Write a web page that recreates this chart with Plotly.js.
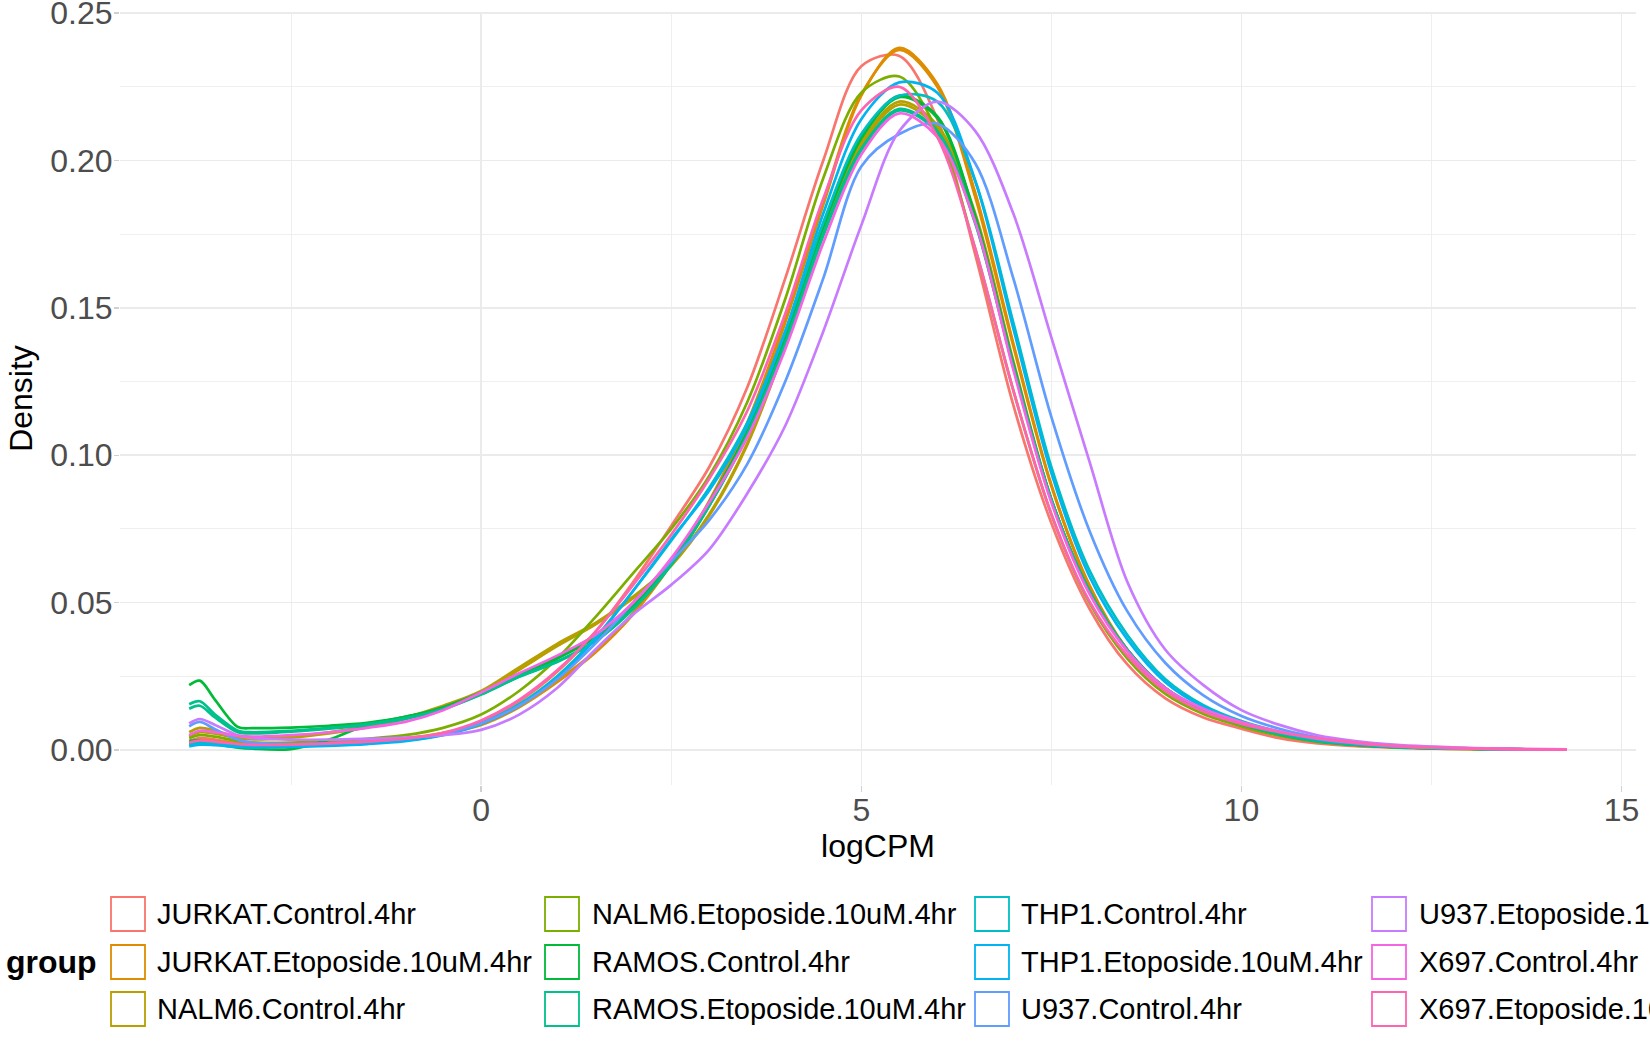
<!DOCTYPE html>
<html>
<head>
<meta charset="utf-8">
<script src="https://cdn.plot.ly/plotly-3.0.1.min.js"></script>
<style>
  html, body { margin: 0; padding: 0; background: #fff; }
  #plot { width: 1650px; height: 1050px; }
</style>
</head>
<body>
<div id="plot"></div>
<script>
// logCPM grid the curves were read at
const logCPM = [-3.84, -3.7, -3.5, -3.2, -3.0, -2.5, -2.0, -1.5, -1.0, -0.5, 0.0, 0.5, 1.0, 1.5, 2.0, 2.5, 3.0, 3.5, 4.0, 4.5,
  5.0, 5.5, 6.0, 6.5, 7.0, 7.5, 8.0, 8.5, 9.0, 9.5, 10.0, 10.5, 11.0, 11.5, 12.0, 13.0, 14.28];

const groups = [
  "JURKAT.Control.4hr", "JURKAT.Etoposide.10uM.4hr", "NALM6.Control.4hr",
  "NALM6.Etoposide.10uM.4hr", "RAMOS.Control.4hr", "RAMOS.Etoposide.10uM.4hr",
  "THP1.Control.4hr", "THP1.Etoposide.10uM.4hr", "U937.Control.4hr",
  "U937.Etoposide.10uM.4hr", "X697.Control.4hr", "X697.Etoposide.10uM.4hr"
];
const groupColors = ["#F8766D", "#DE8C00", "#B79F00", "#7CAE00", "#00BA38", "#00C08B",
  "#00BFC4", "#00B4F0", "#619CFF", "#C77CFF", "#F564E3", "#FF64B0"];

// density per sample
const jurkatControl = [0.0030, 0.0040, 0.0035, 0.0022, 0.0018, 0.0017, 0.0020, 0.0026, 0.0035, 0.0055, 0.0095, 0.0165, 0.0265, 0.0400, 0.0570, 0.0760, 0.0960, 0.1230, 0.1600, 0.2000,
  0.2320, 0.2355, 0.2140, 0.1680, 0.1170, 0.0770, 0.0480, 0.0290, 0.0175, 0.0110, 0.0072, 0.0040, 0.0022, 0.0013, 0.0008, 0.0003, 0.0001];
const jurkatEto1 = [0.0020, 0.0030, 0.0028, 0.0020, 0.0017, 0.0018, 0.0022, 0.0028, 0.0037, 0.0055, 0.0085, 0.0145, 0.0230, 0.0330, 0.0460, 0.0630, 0.0840, 0.1100, 0.1450, 0.1850,
  0.2220, 0.2382, 0.2260, 0.1890, 0.1380, 0.0900, 0.0560, 0.0340, 0.0205, 0.0130, 0.0085, 0.0052, 0.0030, 0.0018, 0.0010, 0.0004, 0.0001];
const jurkatEto2 = [0.0024, 0.0034, 0.0030, 0.0021, 0.0018, 0.0019, 0.0023, 0.0029, 0.0039, 0.0058, 0.0090, 0.0150, 0.0235, 0.0335, 0.0465, 0.0635, 0.0845, 0.1110, 0.1460, 0.1860,
  0.2225, 0.2375, 0.2250, 0.1875, 0.1370, 0.0895, 0.0555, 0.0335, 0.0200, 0.0128, 0.0083, 0.0050, 0.0029, 0.0017, 0.0010, 0.0004, 0.0001];
const nalm6Control1 = [0.0060, 0.0075, 0.0065, 0.0045, 0.0040, 0.0045, 0.0060, 0.0080, 0.0110, 0.0150, 0.0200, 0.0280, 0.0360, 0.0430, 0.0520, 0.0630, 0.0800, 0.1040, 0.1380, 0.1760,
  0.2060, 0.2200, 0.2120, 0.1820, 0.1320, 0.0850, 0.0540, 0.0340, 0.0210, 0.0135, 0.0088, 0.0055, 0.0032, 0.0019, 0.0011, 0.0004, 0.0001];
const nalm6Control2 = [0.0045, 0.0060, 0.0055, 0.0040, 0.0036, 0.0042, 0.0056, 0.0076, 0.0105, 0.0145, 0.0195, 0.0272, 0.0352, 0.0425, 0.0515, 0.0625, 0.0795, 0.1035, 0.1370, 0.1750,
  0.2050, 0.2190, 0.2110, 0.1810, 0.1310, 0.0845, 0.0536, 0.0338, 0.0208, 0.0134, 0.0087, 0.0054, 0.0031, 0.0018, 0.0010, 0.0004, 0.0001];
const nalm6Eto = [0.0040, 0.0050, 0.0045, 0.0030, 0.0025, 0.0025, 0.0030, 0.0038, 0.0050, 0.0075, 0.0120, 0.0200, 0.0310, 0.0450, 0.0600, 0.0750, 0.0930, 0.1180, 0.1530, 0.1940,
  0.2230, 0.2285, 0.2100, 0.1700, 0.1220, 0.0800, 0.0500, 0.0310, 0.0190, 0.0122, 0.0080, 0.0048, 0.0027, 0.0016, 0.0009, 0.0003, 0.0001];
const ramosControl1 = [0.0220, 0.0235, 0.0170, 0.0078, 0.0074, 0.0076, 0.0082, 0.0092, 0.0112, 0.0145, 0.0195, 0.0255, 0.0315, 0.0390, 0.0490, 0.0640, 0.0840, 0.1080, 0.1400, 0.1780,
  0.2080, 0.2220, 0.2150, 0.1810, 0.1310, 0.0850, 0.0540, 0.0340, 0.0210, 0.0135, 0.0088, 0.0054, 0.0031, 0.0018, 0.0010, 0.0004, 0.0001];
const ramosControl2 = [0.0030, 0.0032, 0.0020, 0.0008, 0.0004, 0.0003, 0.0035, 0.0085, 0.0112, 0.0140, 0.0190, 0.0250, 0.0310, 0.0380, 0.0480, 0.0630, 0.0830, 0.1075, 0.1395, 0.1775,
  0.2075, 0.2215, 0.2145, 0.1805, 0.1305, 0.0848, 0.0538, 0.0338, 0.0209, 0.0134, 0.0087, 0.0053, 0.0030, 0.0018, 0.0010, 0.0004, 0.0001];
const ramosEto1 = [0.0155, 0.0165, 0.0120, 0.0065, 0.0060, 0.0065, 0.0075, 0.0088, 0.0108, 0.0140, 0.0190, 0.0250, 0.0300, 0.0370, 0.0480, 0.0630, 0.0830, 0.1070, 0.1380, 0.1750,
  0.2040, 0.2175, 0.2100, 0.1790, 0.1300, 0.0850, 0.0540, 0.0340, 0.0210, 0.0135, 0.0088, 0.0054, 0.0031, 0.0018, 0.0010, 0.0004, 0.0001];
const ramosEto2 = [0.0140, 0.0150, 0.0110, 0.0060, 0.0056, 0.0062, 0.0072, 0.0085, 0.0105, 0.0138, 0.0188, 0.0248, 0.0298, 0.0368, 0.0478, 0.0628, 0.0828, 0.1068, 0.1378, 0.1745,
  0.2035, 0.2170, 0.2095, 0.1785, 0.1298, 0.0849, 0.0539, 0.0339, 0.0209, 0.0134, 0.0087, 0.0053, 0.0030, 0.0018, 0.0010, 0.0004, 0.0001];
const thp1Control = [0.0020, 0.0025, 0.0022, 0.0015, 0.0012, 0.0012, 0.0016, 0.0022, 0.0032, 0.0052, 0.0090, 0.0155, 0.0250, 0.0380, 0.0540, 0.0710, 0.0890, 0.1110, 0.1420, 0.1790,
  0.2090, 0.2220, 0.2200, 0.1930, 0.1450, 0.0960, 0.0610, 0.0390, 0.0240, 0.0152, 0.0098, 0.0062, 0.0037, 0.0022, 0.0013, 0.0005, 0.0001];
const thp1Eto = [0.0012, 0.0018, 0.0016, 0.0010, 0.0008, 0.0010, 0.0014, 0.0020, 0.0030, 0.0050, 0.0088, 0.0150, 0.0245, 0.0375, 0.0540, 0.0715, 0.0880, 0.1100, 0.1420, 0.1820,
  0.2140, 0.2265, 0.2230, 0.1930, 0.1430, 0.0940, 0.0590, 0.0375, 0.0230, 0.0146, 0.0095, 0.0060, 0.0036, 0.0021, 0.0012, 0.0004, 0.0001];
const u937Control = [0.0080, 0.0095, 0.0070, 0.0035, 0.0025, 0.0020, 0.0022, 0.0028, 0.0038, 0.0055, 0.0090, 0.0150, 0.0240, 0.0360, 0.0500, 0.0640, 0.0780, 0.0970, 0.1250, 0.1600,
  0.1980, 0.2090, 0.2125, 0.1990, 0.1600, 0.1130, 0.0745, 0.0470, 0.0295, 0.0185, 0.0115, 0.0072, 0.0043, 0.0025, 0.0014, 0.0005, 0.0001];
const u937Eto = [0.0090, 0.0105, 0.0085, 0.0050, 0.0040, 0.0035, 0.0035, 0.0038, 0.0042, 0.0050, 0.0068, 0.0120, 0.0210, 0.0340, 0.0460, 0.0560, 0.0680, 0.0870, 0.1100, 0.1420,
  0.1780, 0.2100, 0.2200, 0.2100, 0.1820, 0.1400, 0.0980, 0.0570, 0.0340, 0.0220, 0.0135, 0.0085, 0.0050, 0.0030, 0.0018, 0.0007, 0.0002];
const x697Control = [0.0050, 0.0065, 0.0060, 0.0048, 0.0045, 0.0050, 0.0060, 0.0075, 0.0095, 0.0135, 0.0195, 0.0260, 0.0320, 0.0390, 0.0500, 0.0650, 0.0840, 0.1060, 0.1360, 0.1720,
  0.2020, 0.2160, 0.2080, 0.1790, 0.1290, 0.0840, 0.0530, 0.0335, 0.0210, 0.0140, 0.0095, 0.0062, 0.0038, 0.0023, 0.0013, 0.0005, 0.0001];
const x697Eto = [0.0025, 0.0032, 0.0028, 0.0020, 0.0017, 0.0018, 0.0022, 0.0028, 0.0038, 0.0058, 0.0100, 0.0170, 0.0270, 0.0400, 0.0560, 0.0730, 0.0920, 0.1150, 0.1480, 0.1870,
  0.2170, 0.2250, 0.2080, 0.1700, 0.1220, 0.0800, 0.0505, 0.0320, 0.0200, 0.0130, 0.0088, 0.0060, 0.0040, 0.0025, 0.0014, 0.0005, 0.0001];

const yTicks = [0, 0.05, 0.10, 0.15, 0.20, 0.25];
const xTicks = [0, 5, 10, 15];

// sample -> group index
const samples = [
  [0, jurkatControl], [1, jurkatEto1], [1, jurkatEto2], [2, nalm6Control1], [2, nalm6Control2],
  [3, nalm6Eto], [4, ramosControl1], [4, ramosControl2], [5, ramosEto1], [5, ramosEto2],
  [6, thp1Control], [7, thp1Eto], [8, u937Control], [9, u937Eto], [10, x697Control], [11, x697Eto]
];

const W = 1650, H = 1050;
const MARGIN = { l: 120, r: 14, t: 12, b: 265 };
const plotW = W - MARGIN.l - MARGIN.r, plotH = H - MARGIN.t - MARGIN.b;
const px2x = px => (px - MARGIN.l) / plotW;
const py2y = py => (H - MARGIN.b - py) / plotH;
const FONT = "Liberation Sans, Arial, Helvetica, sans-serif";

function buildDensityTrace(groupIdx, dens) {
  return {
    type: "scatter",
    mode: "lines",
    x: logCPM,
    y: dens,
    line: { color: groupColors[groupIdx], width: 2.7, shape: "spline", smoothing: 0.9 },
    name: groups[groupIdx],
    showlegend: false,
    hoverinfo: "skip"
  };
}

// ggplot style legend: outlined key boxes in 4 columns x 3 rows
function buildLegend() {
  const boxLeft = [111, 545, 975, 1372];
  const textLeft = [155, 590, 1019, 1417];
  const rowY = [914, 962, 1009];
  const box = 34;
  const shapes = [], annotations = [];
  groups.forEach((g, i) => {
    const col = Math.floor(i / 3), row = i % 3;
    const cy = rowY[row];
    shapes.push({
      type: "rect", xref: "paper", yref: "paper",
      x0: px2x(boxLeft[col]), x1: px2x(boxLeft[col] + box),
      y0: py2y(cy + box / 2), y1: py2y(cy - box / 2),
      line: { color: groupColors[i], width: 1.8 },
      fillcolor: "rgba(0,0,0,0)"
    });
    annotations.push({
      text: g, xref: "paper", yref: "paper",
      x: px2x(textLeft[col]), y: py2y(cy),
      xanchor: "left", yanchor: "middle", showarrow: false,
      font: { family: FONT, size: 29, color: "#000" }
    });
  });
  annotations.push({
    text: "group", xref: "paper", yref: "paper",
    x: px2x(4), y: py2y(rowY[1]),
    xanchor: "left", yanchor: "middle", showarrow: false,
    font: { family: FONT, size: 32, color: "#000", weight: "bold" }
  });
  return { shapes, annotations };
}

const traces = samples.map(([g, d]) => buildDensityTrace(g, d));
const legend = buildLegend();

const layout = {
  width: W, height: H,
  margin: MARGIN,
  paper_bgcolor: "#fff", plot_bgcolor: "#fff",
  font: { family: FONT, color: "#000" },
  showlegend: false,
  xaxis: {
    range: [-4.75, 15.19],
    tickmode: "array", tickvals: xTicks, ticktext: xTicks.map(String),
    ticks: "outside", ticklen: 6, tickwidth: 1.4, tickcolor: "#d0d0d0",
    ticklabelstandoff: -9, ticklabeloverflow: "allow",
    tickfont: { family: FONT, size: 32, color: "#4D4D4D" },
    showgrid: true, gridcolor: "#EBEBEB", gridwidth: 1.5,
    minor: { tickmode: "array", tickvals: [-2.5, 2.5, 7.5, 12.5], showgrid: true, gridcolor: "#EBEBEB", gridwidth: 0.8 },
    zeroline: false, showline: false,
    title: { text: "logCPM", font: { family: FONT, size: 32, color: "#000" }, standoff: 2 }
  },
  yaxis: {
    range: [-0.0119, 0.2504],
    tickmode: "array", tickvals: yTicks, ticktext: yTicks.map(v => v.toFixed(2)),
    ticks: "outside", ticklen: 5, tickwidth: 1.4, tickcolor: "#d0d0d0",
    ticklabelstandoff: -5, ticklabeloverflow: "allow",
    tickfont: { family: FONT, size: 32, color: "#4D4D4D" },
    showgrid: true, gridcolor: "#EBEBEB", gridwidth: 1.5,
    minor: { tickmode: "array", tickvals: [0.025, 0.075, 0.125, 0.175, 0.225], showgrid: true, gridcolor: "#EBEBEB", gridwidth: 0.8 },
    zeroline: false, showline: false,
    title: { text: "Density", font: { family: FONT, size: 32, color: "#000" }, standoff: 8 }
  },
  shapes: legend.shapes,
  annotations: legend.annotations
};

Plotly.newPlot("plot", traces, layout, { staticPlot: true, displayModeBar: false });
</script>
</body>
</html>
